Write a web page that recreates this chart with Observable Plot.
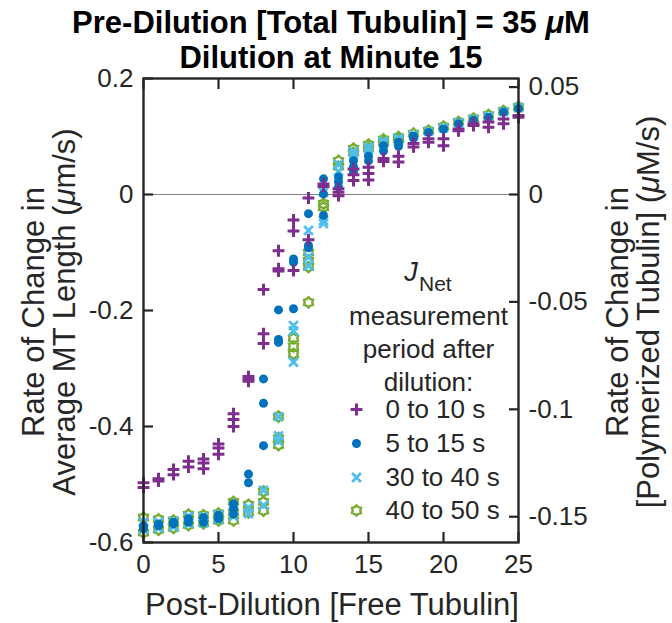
<!DOCTYPE html>
<html><head><meta charset="utf-8">
<script src="https://cdn.jsdelivr.net/npm/d3@7"></script>
<script src="https://cdn.jsdelivr.net/npm/@observablehq/plot@0.6"></script>
<style>body{margin:0;background:#fff} svg{display:block}</style>
</head><body><div id="chart"></div>
<script>
// Post-dilution free tubulin concentrations (x)
const freeTubulin = [0,1,2,3,4,5,6,7,8,9,10,11,12,13,14,15,16,17,18,19,20,21,22,23,24,25];
// replicate values per x (µm/s)
const jnet0to10 = [
 [-0.497,-0.505],[-0.490,-0.494],[-0.474,-0.483],[-0.460,-0.470],[-0.456,-0.463,-0.473],
 [-0.430,-0.437,-0.448],[-0.378,-0.388,-0.400],[-0.314,-0.318,-0.322],[-0.164,-0.240,-0.257],
 [-0.097,-0.128,-0.132],[-0.044,-0.063,-0.131],[-0.006,-0.078],[0.018,0.014],[0.010,0.004,-0.002],
 [0.044,0.034,0.024],[0.047,0.036,0.025],[0.062,0.057],[0.066,0.056],[0.088,0.082],[0.096,0.090],
 [0.096,0.084],[0.110,0.113],[0.119,0.122],[0.125,0.116],[0.130,0.122],[0.133,0.136]];
const jnet5to15 = [
 [-0.571,-0.576],[-0.571,-0.568],[-0.568,-0.565],[-0.559,-0.565],[-0.557,-0.565],
 [-0.553,-0.559],[-0.533,-0.542,-0.551],[-0.482,-0.497],[-0.318,-0.360,-0.433],
 [-0.199,-0.250,-0.255],[-0.111,-0.117,-0.197],[-0.033,-0.092,-0.088],[0.027,0.001,-0.036],
 [0.030,0.022,0.013],[0.058,0.048,0.040],[0.066,0.058],[0.084,0.075],[0.090,0.083],[0.101,0.097],
 [0.107],[0.113],[0.122],[0.128],[0.133],[0.142],[0.148]];
const jnet30to40 = [
 [-0.565,-0.577],[-0.565,-0.575],[-0.563,-0.573],[-0.555,-0.567],[-0.556,-0.566],
 [-0.552,-0.560],[-0.545,-0.555],[-0.540,-0.550],[-0.510,-0.536],
 [-0.383,-0.416,-0.425],[-0.226,-0.235,-0.289],[-0.062,-0.108,-0.123],[-0.045,-0.050,0.004],
 [0.052,0.040],[0.074,0.068],[0.082,0.078],[0.092,0.088],[0.097,0.093],[0.103],
 [0.109],[0.115],[0.124],[0.130],[0.135],[0.143],[0.150]];
const jnet40to50 = [
 [-0.557,-0.583],[-0.560,-0.578],[-0.562,-0.575],[-0.552,-0.570],[-0.553,-0.567],
 [-0.550,-0.562],[-0.530,-0.548,-0.562],[-0.535,-0.548],[-0.512,-0.530,-0.545],
 [-0.383,-0.420,-0.432],[-0.248,-0.262,-0.275],[-0.100,-0.114,-0.125,-0.186],[-0.016,-0.022],
 [0.058,0.048],[0.079,0.072],[0.086,0.080],[0.095,0.090],[0.099,0.095],[0.105],
 [0.110],[0.117],[0.125],[0.131],[0.137],[0.144],[0.151]];

const seriesNames = ["0 to 10 s","5 to 15 s","30 to 40 s","40 to 50 s"];
const xTicks = [0,5,10,15,20,25];
const leftTicks = [0.2,0,-0.2,-0.4,-0.6];
const rightTicks = [0.05,0,-0.05,-0.1,-0.15];
const rightPerLeft = 0.27; // µM/s per µm/s
const legendHeader = "measurement\nperiod after\ndilution:";

const colors = {"0 to 10 s":"#7E2F8E","5 to 15 s":"#0072BD","30 to 40 s":"#4DBEEE","40 to 50 s":"#77AC30"};

function flatten(arr, name){
  const out=[];
  arr.forEach((vals,i)=>vals.forEach(v=>out.push({x:freeTubulin[i], y:v, s:name})));
  return out;
}
const rows = {
  "0 to 10 s": flatten(jnet0to10,"0 to 10 s"),
  "5 to 15 s": flatten(jnet5to15,"5 to 15 s"),
  "30 to 40 s": flatten(jnet30to40,"30 to 40 s"),
  "40 to 50 s": flatten(jnet40to50,"40 to 50 s")
};

const hexagram = {draw(ctx, size){
  const R = Math.sqrt(size/Math.PI)*1.2, r = R*0.74;
  for(let i=0;i<12;i++){const a=-Math.PI/2+i*Math.PI/6, rr=i%2?r:R, x=rr*Math.cos(a), y=rr*Math.sin(a); i?ctx.lineTo(x,y):ctx.moveTo(x,y);}
  ctx.closePath();
}};
const style = {
  "0 to 10 s": {symbol:"plus", r:3.9, stroke:colors["0 to 10 s"], strokeWidth:3, fill:"none"},
  "5 to 15 s": {symbol:"circle", r:4.5, fill:colors["5 to 15 s"], stroke:"none"},
  "30 to 40 s": {symbol:"times", r:4.1, stroke:colors["30 to 40 s"], strokeWidth:2.7, fill:"none"},
  "40 to 50 s": {symbol:hexagram, r:4.3, stroke:colors["40 to 50 s"], strokeWidth:2.4, fill:"none"}
};

const FONT = "Liberation Sans, Arial, Helvetica, sans-serif";
const axisColor = "#262626";
const ML=143, MT=78, W=672, H=623, MR=W-518, MB=H-542;

const drawOrder = ["40 to 50 s","30 to 40 s","5 to 15 s","0 to 10 s"];
const legendDy = [331, 365, 399, 432];

const marks = [
  Plot.ruleY([0], {stroke:"#808080", strokeWidth:1.2}),
  ...drawOrder.map(s => Plot.dot(rows[s], {x:"x", y:"y", ...style[s]})),
  // axes ticks (inward)
  Plot.axisX({ticks:xTicks, tickSize:-10, tickFormat:()=>"", color:axisColor, strokeWidth:2.2, label:null}),
  Plot.axisX({anchor:"top", ticks:xTicks, tickSize:-10, tickFormat:()=>"", color:axisColor, strokeWidth:2.2, label:null}),
  Plot.axisY({ticks:leftTicks, tickSize:-10, tickFormat:()=>"", color:axisColor, strokeWidth:2.2, label:null}),
  Plot.axisY({anchor:"right", ticks:rightTicks.map(v=>v/rightPerLeft), tickSize:-10, tickFormat:()=>"", color:axisColor, strokeWidth:2.2, label:null}),
  // axis labels
  Plot.axisX({ticks:xTicks, tickSize:0, tickPadding:12, fontSize:26, color:axisColor, label:null}),
  Plot.axisY({ticks:leftTicks, tickSize:0, tickPadding:10, fontSize:26, color:axisColor, label:null, tickFormat:d=>String(d)}),
  Plot.axisY({anchor:"right", ticks:rightTicks.map(v=>v/rightPerLeft), tickSize:0, tickPadding:10, fontSize:26, color:axisColor, label:null,
    tickFormat:d=>String(+(d*rightPerLeft).toFixed(3))}),
  Plot.frame({stroke:axisColor, strokeWidth:2.4}),
  // legend
  Plot.text([legendHeader], {frameAnchor:"top-left", dx:285, dy:269, text:d=>d, fontSize:26, lineHeight:1.28, lineAnchor:"middle", fill:axisColor, textAnchor:"middle"}),
  ...seriesNames.map((s,i)=>Plot.dot([s], {frameAnchor:"top-left", dx:213, dy:legendDy[i], ...style[s]})),
  ...seriesNames.map((s,i)=>Plot.text([s], {frameAnchor:"top-left", dx:242, dy:legendDy[i], text:d=>d, fontSize:26, lineAnchor:"middle", fill:axisColor, textAnchor:"start"}))
];

const chart = Plot.plot({
  width:W, height:H, marginLeft:ML, marginRight:MR, marginTop:MT, marginBottom:MB,
  style:{fontFamily:FONT, background:"#fff", color:axisColor},
  x:{domain:[0,25], label:null},
  y:{domain:[-0.6,0.2], label:null},
  marks
});
document.getElementById("chart").appendChild(chart);

// rich-text labels (italic µ, subscript)
const svg = d3.select(chart);
function rich(x, y, parts, {size=31, weight="normal", rotate=0, fill=axisColor}={}){
  const t = svg.append("text").attr("transform", `translate(${x},${y}) rotate(${rotate})`)
    .attr("text-anchor","middle").attr("dy","0.35em")
    .style("font-family",FONT).style("font-size",size+"px").style("font-weight",weight).attr("fill",fill);
  parts.forEach(p=>{ const ts=t.append("tspan").text(p.t); if(p.i) ts.style("font-style","italic"); });
  return t;
}
rich(331, 22, [{t:"Pre-Dilution [Total Tubulin] = 35 "},{t:"μ",i:true},{t:"M"}], {size:31, weight:"bold", fill:"#000"});
rich(331, 57, [{t:"Dilution at Minute 15"}], {size:31, weight:"bold", fill:"#000"});
rich(332, 604, [{t:"Post-Dilution [Free Tubulin]"}], {size:31});
rich(33, 312, [{t:"Rate of Change in"}], {size:31, rotate:-90});
rich(64, 312, [{t:"Average MT Length ("},{t:"μ",i:true},{t:"m/s)"}], {size:31, rotate:-90});
rich(617, 312, [{t:"Rate of Change in"}], {size:31, rotate:-90});
rich(648, 312, [{t:"[Polymerized Tubulin] ("},{t:"μ",i:true},{t:"M/s)"}], {size:31, rotate:-90});
// J_Net legend header
svg.append("text").attr("x",411).attr("y",272).attr("dy","0.35em").attr("text-anchor","middle")
  .style("font-family",FONT).style("font-size","27px").style("font-style","italic").attr("fill",axisColor).text("J");
svg.append("text").attr("x",419).attr("y",284).attr("dy","0.35em").attr("text-anchor","start")
  .style("font-family",FONT).style("font-size","21px").attr("fill",axisColor).text("Net");
</script></body></html>
